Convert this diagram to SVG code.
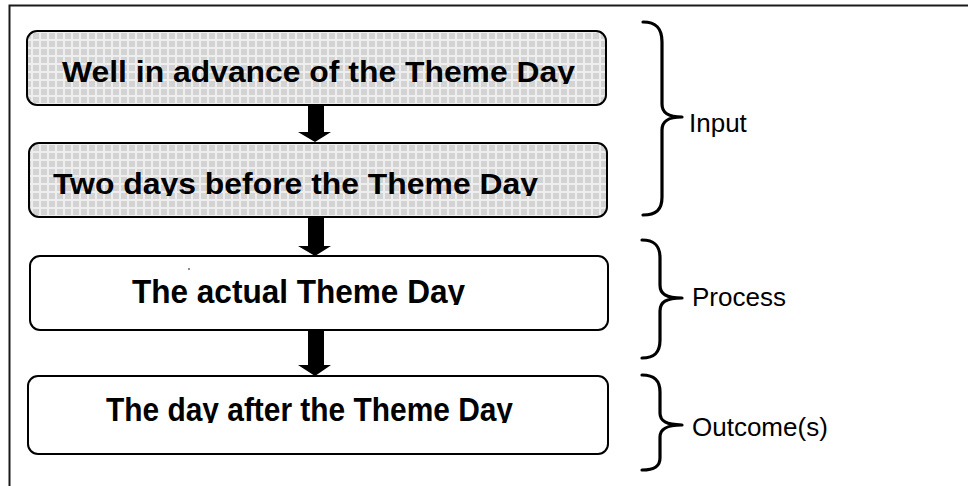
<svg xmlns="http://www.w3.org/2000/svg" width="968" height="486" viewBox="0 0 968 486">
  <style>
    .box { stroke: #000; stroke-width: 2; }
    .plain { fill: #fff; }
    .grid { fill: url(#grid); }
    .title { font-family: "Liberation Sans", Arial, sans-serif; font-weight: bold; fill: #000; }
    .label { font-family: "Liberation Sans", Arial, sans-serif; font-size: 26px; fill: #000; }
    .brace { fill: none; stroke: #000; stroke-width: 3.2; stroke-linecap: round; stroke-linejoin: round; }
    .frame { stroke: #1a1a1a; stroke-width: 2; fill: none; }
    .arrow { fill: #000; }
  </style>
  <defs>
    <pattern id="grid" x="0" y="0" width="8" height="8" patternUnits="userSpaceOnUse">
      <rect width="8" height="8" fill="#eeeeee"/>
      <rect x="1" y="1" width="6" height="6" fill="#d3d3d3"/>
    </pattern>
    <clipPath id="c1"><rect x="0" y="0" width="968" height="84"/></clipPath>
    <clipPath id="c2"><rect x="0" y="100" width="968" height="96"/></clipPath>
    <clipPath id="c3"><rect x="0" y="250" width="968" height="55"/></clipPath>
    <clipPath id="c4"><rect x="0" y="370" width="968" height="53"/></clipPath>
  </defs>
  <rect width="968" height="486" fill="#fff"/>
  <g id="frame">
    <path class="frame" d="M9.5,486 V5.5 H968"/>
  </g>
  <g id="node-advance">
    <rect class="box grid" x="27" y="31" width="579" height="74" rx="10"/>
    <text class="title" x="62" y="82" font-size="29" textLength="513" lengthAdjust="spacingAndGlyphs" clip-path="url(#c1)">Well in advance of the Theme Day</text>
  </g>
  <g id="node-twodays">
    <rect class="box grid" x="29" y="143" width="578" height="74" rx="10"/>
    <text class="title" x="53" y="194" font-size="29" textLength="485" lengthAdjust="spacingAndGlyphs" clip-path="url(#c2)">Two days before the Theme Day</text>
  </g>
  <g id="node-actual">
    <rect class="box plain" x="30" y="256" width="578" height="74" rx="10"/>
    <circle cx="189" cy="269" r="0.8" fill="#000"/>
    <text class="title" x="132" y="303" font-size="33" textLength="333" lengthAdjust="spacingAndGlyphs" clip-path="url(#c3)">The actual Theme Day</text>
  </g>
  <g id="node-after">
    <rect class="box plain" x="28" y="376" width="580" height="78" rx="10"/>
    <text class="title" x="106" y="421" font-size="33" textLength="407" lengthAdjust="spacingAndGlyphs" clip-path="url(#c4)">The day after the Theme Day</text>
  </g>
  <g id="connectors">
    <polygon class="arrow" points="308,105 324,105 324,132 331,132 315,142 298,132 308,132"/>
    <polygon class="arrow" points="308,217 324,217 324,246 331,246 315,256 298,246 308,246"/>
    <polygon class="arrow" points="308,330 324,330 324,365 331,365 315,376 298,365 308,365"/>
  </g>
  <g id="group-input">
    <path class="brace" d="M643,22 C656,22 662,28 662,42 L662,104 C662,113 668,117 682,117 C668,117 662,121 662,130 L662,197 C662,210 656,215 643,215"/>
    <text class="label" x="689" y="132">Input</text>
  </g>
  <g id="group-process">
    <path class="brace" d="M642,240 C655,240 660,246 660,258 L660,285 C660,294 666,298 682,298 C666,298 660,302 660,311 L660,340 C660,352 655,358 642,358"/>
    <text class="label" x="692" y="306">Process</text>
  </g>
  <g id="group-outcome">
    <path class="brace" d="M642,375 C655,375 660,381 660,392 L660,413 C660,421 666,425 682,425 C666,425 660,429 660,437 L660,458 C660,466 655,470 642,470"/>
    <text class="label" x="692" y="436">Outcome(s)</text>
  </g>
</svg>
